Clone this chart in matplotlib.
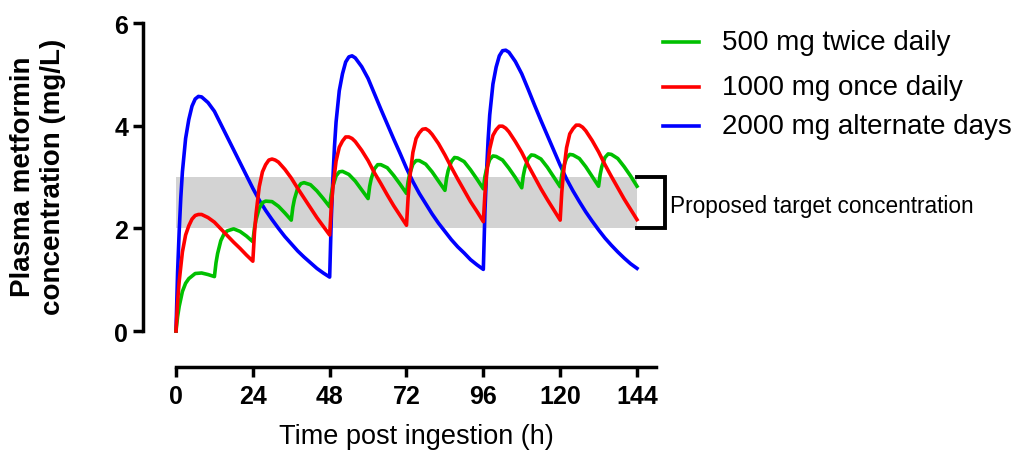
import matplotlib
matplotlib.use("Agg")
import matplotlib.pyplot as plt

plt.rcParams['font.family'] = ['Liberation Sans', 'DejaVu Sans']

# Plasma metformin (mg/L) against hours after the first dose
green_t = [0, 0.5, 1, 2, 3, 4, 6, 8, 10,
           12, 12.5, 13, 14, 15, 16, 18, 20, 22,
           24, 24.5, 25, 26, 27, 28, 30, 32, 34,
           36, 36.5, 37, 38, 39, 40, 42, 44, 46,
           48, 48.5, 49, 50, 51, 52, 54, 56, 58,
           60, 60.5, 61, 62, 63, 64, 66, 68, 70,
           72, 72.5, 73, 74, 75, 76, 78, 80, 82,
           84, 84.5, 85, 86, 87, 88, 90, 92, 94,
           96, 96.5, 97, 98, 99, 100, 102, 104, 106,
           108, 108.5, 109, 110, 111, 112, 114, 116, 118,
           120, 120.5, 121, 122, 123, 124, 126, 128, 130,
           132, 132.5, 133, 134, 135, 136, 138, 140, 142,
           144]
green_c = [0.00, 0.28, 0.48, 0.77, 0.93, 1.02, 1.12, 1.13, 1.10,
           1.06, 1.33, 1.51, 1.76, 1.89, 1.95, 1.99, 1.94, 1.85,
           1.74, 2.00, 2.17, 2.39, 2.50, 2.53, 2.52, 2.43, 2.30,
           2.16, 2.41, 2.57, 2.78, 2.87, 2.89, 2.85, 2.73, 2.58,
           2.42, 2.66, 2.82, 3.02, 3.10, 3.11, 3.05, 2.92, 2.75,
           2.58, 2.82, 2.97, 3.16, 3.24, 3.24, 3.18, 3.03, 2.86,
           2.68, 2.91, 3.06, 3.25, 3.32, 3.32, 3.25, 3.10, 2.92,
           2.74, 2.97, 3.12, 3.30, 3.38, 3.37, 3.30, 3.14, 2.96,
           2.77, 3.01, 3.15, 3.34, 3.41, 3.40, 3.33, 3.17, 2.99,
           2.79, 3.03, 3.18, 3.36, 3.43, 3.42, 3.35, 3.19, 3.00,
           2.81, 3.04, 3.19, 3.37, 3.44, 3.43, 3.36, 3.20, 3.01,
           2.82, 3.05, 3.20, 3.38, 3.45, 3.44, 3.36, 3.20, 3.02,
           2.82]

red_t = [0, 0.5, 1, 2, 3, 4, 5, 6, 7, 8, 10, 12, 14, 16, 18, 20, 22,
         24, 24.5, 25, 26, 27, 28, 29, 30, 31, 32, 34, 36, 38, 40, 42, 44, 46,
         48, 48.5, 49, 50, 51, 52, 53, 54, 55, 56, 58, 60, 62, 64, 66, 68, 70,
         72, 72.5, 73, 74, 75, 76, 77, 78, 79, 80, 82, 84, 86, 88, 90, 92, 94,
         96, 96.5, 97, 98, 99, 100, 101, 102, 103, 104, 106, 108, 110, 112, 114, 116, 118,
         120, 120.5, 121, 122, 123, 124, 125, 126, 127, 128, 130, 132, 134, 136, 138, 140, 142,
         144]
red_c = [0.00, 0.57, 0.97, 1.54, 1.87, 2.05, 2.18, 2.25, 2.27, 2.27, 2.21, 2.12, 1.99, 1.86, 1.73, 1.61, 1.48,
         1.36, 1.90, 2.28, 2.81, 3.10, 3.24, 3.33, 3.35, 3.33, 3.29, 3.15, 2.98, 2.78, 2.59, 2.40, 2.21, 2.04,
         1.87, 2.41, 2.79, 3.31, 3.58, 3.70, 3.78, 3.78, 3.75, 3.69, 3.52, 3.32, 3.08, 2.87, 2.65, 2.44, 2.25,
         2.06, 2.60, 2.97, 3.48, 3.75, 3.86, 3.93, 3.94, 3.90, 3.83, 3.65, 3.43, 3.19, 2.96, 2.74, 2.52, 2.33,
         2.13, 2.67, 3.04, 3.55, 3.81, 3.92, 3.99, 3.99, 3.95, 3.88, 3.69, 3.48, 3.23, 3.00, 2.77, 2.56, 2.36,
         2.16, 2.70, 3.06, 3.57, 3.84, 3.94, 4.01, 4.01, 3.97, 3.90, 3.71, 3.49, 3.24, 3.01, 2.79, 2.57, 2.37,
         2.17]

blue_t = [0, 0.5, 1, 1.5, 2, 3, 4, 5, 6, 7, 8, 10, 12, 14, 16, 18, 20, 22, 24, 26, 28, 30, 32, 34, 36, 38, 40, 42, 44, 46,
          48, 48.5, 49, 49.5, 50, 51, 52, 53, 54, 55, 56, 58, 60, 62, 64, 66, 68, 70, 72, 74, 76, 78, 80, 82, 84, 86, 88, 90, 92, 94,
          96, 96.5, 97, 97.5, 98, 99, 100, 101, 102, 103, 104, 106, 108, 110, 112, 114, 116, 118, 120, 122, 124, 126, 128, 130, 132, 134, 136, 138, 140, 142,
          144]
blue_c = [0.00, 1.15, 1.95, 2.60, 3.10, 3.75, 4.12, 4.38, 4.52, 4.57, 4.56, 4.45, 4.28, 4.03, 3.78, 3.53, 3.28, 3.03, 2.78, 2.55, 2.35, 2.17, 2.00, 1.84, 1.70, 1.56, 1.44, 1.33, 1.22, 1.13,
          1.05, 2.18, 2.96, 3.59, 4.07, 4.68, 5.01, 5.24, 5.34, 5.36, 5.32, 5.15, 4.92, 4.62, 4.32, 4.03, 3.74, 3.46, 3.17, 2.91, 2.68, 2.48, 2.28, 2.10, 1.94, 1.78, 1.64, 1.52, 1.39, 1.29,
          1.20, 2.33, 3.10, 3.73, 4.21, 4.81, 5.14, 5.36, 5.46, 5.47, 5.43, 5.25, 5.01, 4.71, 4.40, 4.10, 3.81, 3.52, 3.23, 2.96, 2.73, 2.52, 2.32, 2.14, 1.97, 1.81, 1.67, 1.54, 1.42, 1.31,
          1.22]

labels = ['500 mg twice daily', '1000 mg once daily', '2000 mg alternate days']
colors = ['#00c000', '#ff0000', '#0000ff']

target_low, target_high = 2, 3
x_ticks = [0, 24, 48, 72, 96, 120, 144]
y_ticks = [0, 2, 4, 6]

W, H = 1016, 452
fig = plt.figure(figsize=(W / 100, H / 100), dpi=100)
ax = fig.add_axes([176 / W, 1 - 332 / H, 480.2 / W, 308 / H])


def fx(px):
    return px / W


def fy(py):
    return 1 - py / H


# shaded target window
ax.fill_between([0, 144], target_low, target_high, color='#d3d3d3', lw=0, zorder=0)

lw = 2.6
ax.plot(blue_t, blue_c, color=colors[2], lw=lw, clip_on=False, zorder=2, solid_joinstyle='round')
ax.plot(green_t, green_c, color=colors[0], lw=lw, clip_on=False, zorder=3, solid_joinstyle='round')
ax.plot(red_t, red_c, color=colors[1], lw=lw, clip_on=False, zorder=4, solid_joinstyle='round')

# bracket marking the target range
ax.plot([144, 152.8, 152.8, 144], [target_high, target_high, target_low, target_low],
        color='black', lw=2.8, clip_on=False, solid_joinstyle='miter')

ax.set_xlim(0, 150)
ax.set_ylim(0, 6)
ax.set_xticks(x_ticks)
ax.set_yticks(y_ticks)

for side in ['top', 'right']:
    ax.spines[side].set_visible(False)
ax.spines['left'].set_position(('outward', 23.8))
ax.spines['bottom'].set_position(('outward', 26))
for side in ['left', 'bottom']:
    ax.spines[side].set_linewidth(2.5)
    ax.spines[side].set_capstyle('projecting')

ax.tick_params(axis='both', direction='out', length=7.5, width=2.5, labelsize=18)
ax.tick_params(axis='y', pad=3)
ax.tick_params(axis='x', pad=5)
for lab in ax.get_xticklabels() + ax.get_yticklabels():
    lab.set_fontweight('bold')

fig.text(fx(38), fy(177), 'Plasma metformin\nconcentration (mg/L)', rotation=90,
         ha='center', va='center', fontsize=20, fontweight='bold',
         multialignment='center', linespacing=1.15)
fig.text(fx(416), fy(437), 'Time post ingestion (h)', ha='center', va='center', fontsize=19.5)

# legend entries
legend_rows = [43, 88, 127]
for row, label, color in zip(legend_rows, labels, colors):
    fig.add_artist(plt.Line2D([fx(663), fx(699)], [fy(row), fy(row)], color=color, lw=2.6))
    fig.text(fx(722), fy(row), label, ha='left', va='center', fontsize=20)

fig.text(fx(670), fy(207), 'Proposed target concentration', ha='left', va='center', fontsize=16.3)

fig.savefig('out.png', dpi=100)
